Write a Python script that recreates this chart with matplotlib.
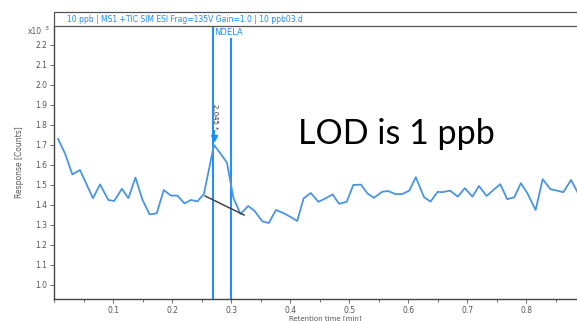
import matplotlib
matplotlib.use("Agg")
import matplotlib.pyplot as plt
from matplotlib.ticker import MultipleLocator, FormatStrFormatter
from matplotlib.patches import Rectangle

# Chromatogram trace (retention time in min, response in x10^3 counts)
rt = [0.007, 0.019, 0.031, 0.044, 0.066, 0.078, 0.092, 0.102, 0.115, 0.126,
      0.138, 0.150, 0.162, 0.174, 0.186, 0.198, 0.209, 0.221, 0.232, 0.243,
      0.254, 0.271, 0.282, 0.293, 0.304, 0.316, 0.329, 0.340, 0.353, 0.364,
      0.376, 0.390, 0.401, 0.412, 0.423, 0.435, 0.448, 0.460, 0.472, 0.483,
      0.496, 0.507, 0.520, 0.531, 0.542, 0.556, 0.566, 0.579, 0.590, 0.602,
      0.613, 0.627, 0.638, 0.650, 0.658, 0.671, 0.684, 0.696, 0.709, 0.720,
      0.733, 0.746, 0.756, 0.768, 0.780, 0.791, 0.802, 0.816, 0.828, 0.841,
      0.852, 0.863, 0.876, 0.887]
response = [1.730, 1.655, 1.553, 1.575, 1.434, 1.503, 1.425, 1.420, 1.481, 1.434,
            1.537, 1.425, 1.353, 1.358, 1.475, 1.447, 1.447, 1.408, 1.425, 1.418,
            1.455, 1.700, 1.658, 1.612, 1.435, 1.355, 1.395, 1.370, 1.318, 1.310,
            1.375, 1.358, 1.340, 1.320, 1.433, 1.460, 1.416, 1.433, 1.453, 1.406,
            1.416, 1.500, 1.502, 1.458, 1.436, 1.466, 1.470, 1.454, 1.455, 1.472,
            1.539, 1.439, 1.417, 1.466, 1.464, 1.472, 1.442, 1.484, 1.442, 1.495,
            1.445, 1.479, 1.504, 1.429, 1.439, 1.509, 1.459, 1.375, 1.529, 1.479,
            1.472, 1.464, 1.525, 1.464]

# Integration window markers and peak
window = [0.270, 0.300]
peak_rt, peak_resp = 0.271, 1.700
baseline_rt = [0.256, 0.322]
baseline_resp = [1.445, 1.350]

title = "10 ppb | MS1 +TIC SIM ESI Frag=135V Gain=1.0 | 10 ppb03.d"
compound = "NDELA"
peak_label = "2.045 *"
note = "LOD is 1 ppb"

W, H = 577, 321
fig = plt.figure(figsize=(W / 100, H / 100), dpi=100)
fig.patch.set_facecolor("white")

ax_left, ax_bottom = 54 / W, 22 / H
ax_w, ax_h = 543 / W, 273 / H
ax = fig.add_axes([ax_left, ax_bottom, ax_w, ax_h])
ax.set_xlim(0.0, 0.92)
ax.set_ylim(0.93, 2.295)

line_blue = "#4a95e0"
marker_blue = "#1a8cff"
grey = "#555555"

ax.plot(rt, response, color=line_blue, lw=1.3, solid_joinstyle="round", zorder=3)
ax.axvline(window[0], color=marker_blue, lw=1.4, zorder=2)
ax.plot([window[1], window[1]], [0.93, 2.24], color=marker_blue, lw=1.4, zorder=2)
ax.plot(baseline_rt, baseline_resp, color="#444444", lw=1.1, zorder=4)

# peak marker: arrow and rotated retention-time label
ax.plot([peak_rt], [peak_resp + 0.035], marker="v", color=marker_blue, ms=4.5, zorder=5)
ax.plot([peak_rt, peak_rt], [peak_resp + 0.04, peak_resp + 0.075], color=marker_blue, lw=0.8, zorder=5)
ax.text(peak_rt + 0.001, peak_resp + 0.075, peak_label, rotation=-90, ha="center", va="bottom",
        fontsize=5, color="#333333", zorder=5)

ax.text(window[0] + 0.002, 2.262, compound, color=marker_blue, fontsize=6, ha="left", va="center",
        bbox=dict(facecolor="white", edgecolor="none", pad=0.5), zorder=6)

ax.text(0.413, 1.7035, note, fontsize=24.5, family=["Lato", "DejaVu Sans"], color="black",
        ha="left", va="baseline")

for s in ["right", "top"]:
    ax.spines[s].set_visible(False)
for s in ["left", "bottom"]:
    ax.spines[s].set_color("#444444")
    ax.spines[s].set_linewidth(1.0)

ax.set_yticks([round(1.0 + 0.1 * i, 1) for i in range(13)])
ax.yaxis.set_major_formatter(FormatStrFormatter("%.1f"))
ax.xaxis.set_minor_locator(MultipleLocator(0.05))
ax.set_xticks([0.1, 0.2, 0.3, 0.4, 0.5, 0.6, 0.7, 0.8])
ax.xaxis.set_major_formatter(FormatStrFormatter("%.1f"))
ax.tick_params(axis="both", which="major", labelsize=5.5, colors=grey, length=3, width=0.6, pad=2)
ax.tick_params(axis="x", which="minor", length=2, width=0.6, colors=grey)

ax.set_ylabel("Response [Counts]", fontsize=5.5, color=grey, labelpad=8)
ax.set_xlabel("Retention time [min]", fontsize=5, color=grey, labelpad=0)

# header box with acquisition info
fig.patches.append(Rectangle((54 / W, (H - 26) / H), 1.0, 14 / H, transform=fig.transFigure,
                             facecolor="white", edgecolor="#555555", lw=0.9))
fig.text(67 / W, (H - 19) / H, title, color=marker_blue, fontsize=5.5, va="center", ha="left")

fig.text(28 / W, (H - 31) / H, "x10", fontsize=5.5, color=grey, va="center", ha="left")
fig.text(45 / W, (H - 28) / H, "3", fontsize=4.5, color=grey, va="center", ha="left")

fig.savefig("out.png", dpi=100)
